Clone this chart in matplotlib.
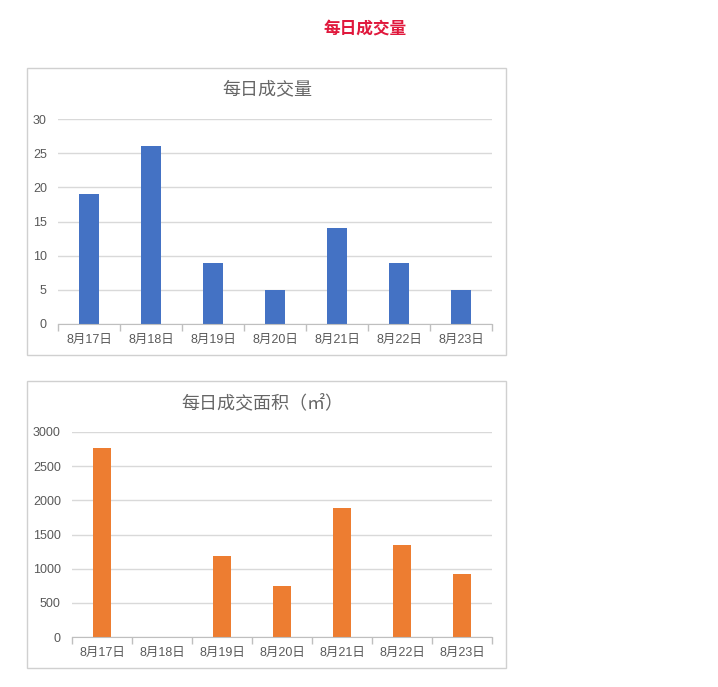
import matplotlib
matplotlib.use("Agg")
import matplotlib.pyplot as plt
from matplotlib.patches import Rectangle

plt.rcParams['font.family'] = ['Liberation Sans', 'Noto Sans CJK SC', 'DejaVu Sans']

dates = ["8月17日", "8月18日", "8月19日", "8月20日", "8月21日", "8月22日", "8月23日"]
volume = [19, 26, 9, 5, 14, 9, 5]
area = [2770, 0, 1190, 750, 1890, 1340, 925]

W, H = 718, 687
fig = plt.figure(figsize=(W / 100, H / 100), dpi=100)


def px_axes(left, top, right, bottom):
    return fig.add_axes([left / W, 1 - bottom / H, (right - left) / W, (bottom - top) / H])


def panel(x0, y0, x1, y1):
    fig.patches.append(Rectangle((x0 / W, 1 - y1 / H), (x1 - x0) / W, (y1 - y0) / H,
                                 transform=fig.transFigure, fill=False,
                                 edgecolor='#d0d0d0', linewidth=1))


def draw(ax, values, color, ymax, step, title, title_x, title_y):
    x = range(len(values))
    ax.bar(x, values, width=0.31, color=color, zorder=3)
    ax.set_xlim(-0.5, len(values) - 0.5)
    ax.set_ylim(0, ymax)
    ax.set_yticks(range(0, ymax + 1, step))
    ax.set_xticks(list(x))
    ax.set_xticklabels(dates)
    ax.set_xticks([i - 0.5 for i in range(len(values) + 1)], minor=True)
    ax.tick_params(axis='x', which='major', length=0, pad=7, labelsize=9, labelcolor='#595959')
    ax.tick_params(axis='x', which='minor', length=5, color='#bfbfbf', width=1)
    ax.tick_params(axis='y', length=0, pad=8, labelsize=9, labelcolor='#595959')
    ax.grid(axis='y', color='#d9d9d9', linewidth=1, zorder=0)
    for s in ['top', 'right', 'left']:
        ax.spines[s].set_visible(False)
    ax.spines['bottom'].set_color('#bfbfbf')
    ax.spines['bottom'].set_zorder(4)
    fig.text(title_x / W, 1 - title_y / H, title, ha='center', va='center',
             fontsize=13, color='#666666', family=['Noto Sans CJK SC', 'DejaVu Sans'])


fig.text(365 / W, 1 - 28 / H, "每日成交量", ha='center', va='center', fontsize=12,
         fontweight='bold', color='#e0183c', family=['Noto Sans CJK SC', 'DejaVu Sans'])

panel(27, 68, 506, 355)
ax1 = px_axes(58, 119, 492, 324)
draw(ax1, volume, '#4472c4', 30, 5, "每日成交量", 267, 89)

panel(27, 381, 506, 668)
ax2 = px_axes(72, 432, 492, 637)
draw(ax2, area, '#ed7d31', 3000, 500, "每日成交面积（㎡）", 262, 403)

fig.savefig("out.png", dpi=100)
